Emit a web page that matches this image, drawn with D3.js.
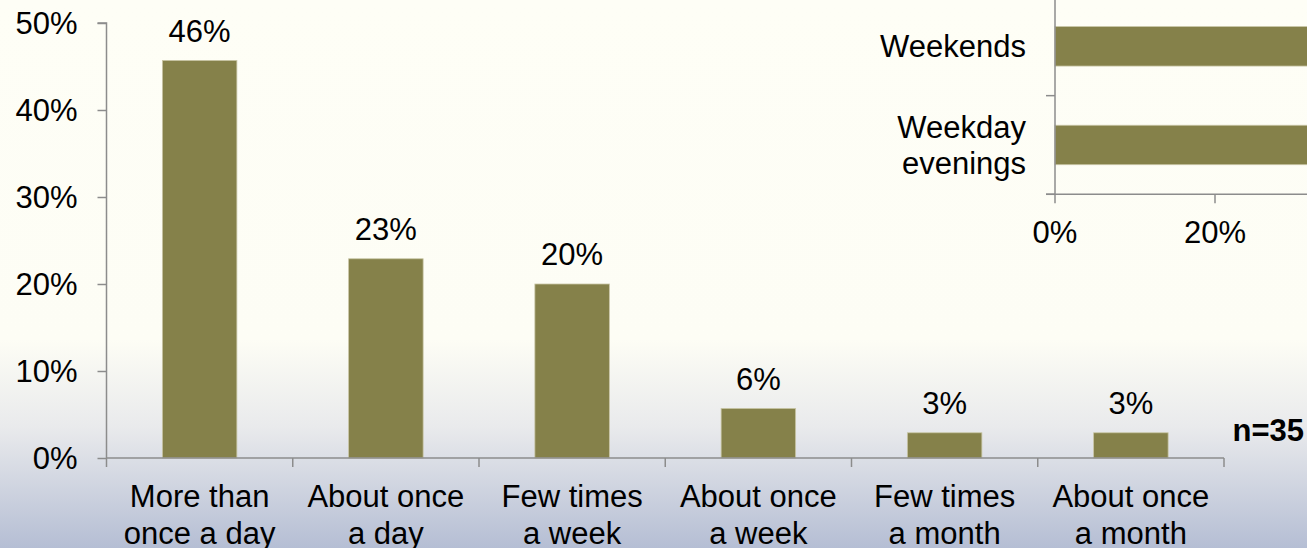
<!DOCTYPE html>
<html>
<head>
<meta charset="utf-8">
<script src="https://cdn.jsdelivr.net/npm/d3@7"></script>
<style>
  html, body { margin: 0; padding: 0; overflow: hidden; }
  svg { display: block; font-family: Arial, "Liberation Sans", sans-serif; }
</style>
</head>
<body>
<svg id="chart" width="1307" height="548"></svg>
<script>
// ---- Data ----
const categories = [["More than", "once a day"], ["About once", "a day"], ["Few times", "a week"], ["About once", "a week"], ["Few times", "a month"], ["About once", "a month"]];
const values = [45.7, 22.9, 20.0, 5.7, 2.9, 2.9];
const valueLabels = ["46%", "23%", "20%", "6%", "3%", "3%"];
const yTicks = [0, 10, 20, 30, 40, 50];

const insetCategories = [["Weekends"], ["Weekday", "evenings"]];
const insetValues = [66, 63];
const insetTicks = [0, 20, 40];

const sampleNote = "n=35";

// ---- Setup ----
const W = 1307, H = 548;
const svg = d3.select("#chart");
const barColor = "#85814A";
const axisColor = "#8C8C8C";
const fontSize = 31;

// background gradient
const defs = svg.append("defs");
const grad = defs.append("linearGradient").attr("id", "bg").attr("x1", 0).attr("y1", 0).attr("x2", 0).attr("y2", 1);
grad.append("stop").attr("offset", "0").attr("stop-color", "#FEFEF6");
grad.append("stop").attr("offset", "0.62").attr("stop-color", "#FDFDF5");
grad.append("stop").attr("offset", "0.78").attr("stop-color", "#E9EAEC");
grad.append("stop").attr("offset", "1").attr("stop-color", "#B5BED4");
svg.append("rect").attr("width", W).attr("height", H).attr("fill", "url(#bg)");

// ---- Main chart ----
const x0 = 106.5, x1 = 1224, yTop = 23, yBot = 458;
const x = d3.scaleBand().domain(d3.range(categories.length)).range([x0, x1]).padding(0);
const y = d3.scaleLinear().domain([0, 50]).range([yBot, yTop]);
const barW = x.bandwidth() * 0.4;

// bars
svg.append("g").selectAll("rect").data(values).join("rect")
  .attr("x", (d, i) => x(i) + (x.bandwidth() - barW) / 2)
  .attr("y", d => y(d))
  .attr("width", barW)
  .attr("height", d => y(0) - y(d))
  .attr("fill", barColor)
  .attr("stroke", "#C9C6A6")
  .attr("stroke-width", 0.8);

// y axis
const yAxis = svg.append("g").attr("transform", `translate(${x0},0)`)
  .call(d3.axisLeft(y).tickValues(yTicks).tickFormat(d => d + "%").tickSize(9).tickPadding(20));
yAxis.select(".domain").attr("stroke", axisColor).attr("stroke-width", 1.5).attr("d", `M-9,${yTop}H0V${yBot}`);
yAxis.selectAll(".tick line").attr("stroke", axisColor).attr("stroke-width", 1.5);
yAxis.selectAll(".tick text").attr("font-size", fontSize).attr("fill", "#000")
  .attr("font-family", "Arial, 'Liberation Sans', sans-serif").attr("dy", "0.35em");

// x axis line and ticks at band boundaries
const xg = svg.append("g");
xg.append("line").attr("x1", x0).attr("x2", x1).attr("y1", yBot).attr("y2", yBot)
  .attr("stroke", axisColor).attr("stroke-width", 1.5);
const boundaries = d3.range(categories.length + 1).map(i => i < categories.length ? x(i) : x1);
xg.selectAll("line.tk").data(boundaries).join("line").attr("class", "tk")
  .attr("x1", d => d).attr("x2", d => d).attr("y1", yBot).attr("y2", yBot + 9)
  .attr("stroke", axisColor).attr("stroke-width", 1.5);

// x labels
svg.append("g").selectAll("text").data(categories).join("text")
  .attr("x", (d, i) => x(i) + x.bandwidth() / 2)
  .attr("y", 507)
  .attr("text-anchor", "middle")
  .attr("font-size", fontSize)
  .attr("fill", "#000")
  .each(function(d) {
    const t = d3.select(this);
    d.forEach((line, j) => {
      t.append("tspan").attr("x", t.attr("x")).attr("dy", j === 0 ? 0 : 36.5).text(line);
    });
  });

// value labels
svg.append("g").selectAll("text").data(values).join("text")
  .attr("x", (d, i) => x(i) + x.bandwidth() / 2)
  .attr("y", d => y(d) - 18.6)
  .attr("text-anchor", "middle")
  .attr("font-size", fontSize)
  .attr("fill", "#000")
  .text((d, i) => valueLabels[i]);

// n note
svg.append("text").attr("x", 1304).attr("y", 441).attr("text-anchor", "end")
  .attr("font-size", fontSize).attr("font-weight", "bold").attr("fill", "#000").text(sampleNote);

// ---- Inset chart ----
const ix0 = 1055, iyTop = -3, iyBot = 194.3;
const ix = d3.scaleLinear().domain([0, 20]).range([ix0, 1215]);
const iy = d3.scaleBand().domain(d3.range(insetCategories.length)).range([iyTop, iyBot]).padding(0);
const ibarH = iy.bandwidth() * 0.4;

svg.append("g").selectAll("rect").data(insetValues).join("rect")
  .attr("x", ix(0))
  .attr("y", (d, i) => iy(i) + (iy.bandwidth() - ibarH) / 2)
  .attr("width", d => ix(d) - ix(0))
  .attr("height", ibarH)
  .attr("fill", barColor)
  .attr("stroke", "#C9C6A6")
  .attr("stroke-width", 0.8);

const ig = svg.append("g");
ig.append("line").attr("x1", ix0).attr("x2", ix0).attr("y1", iyTop).attr("y2", iyBot)
  .attr("stroke", axisColor).attr("stroke-width", 1.5);
ig.append("line").attr("x1", ix0 - 9).attr("x2", W + 10).attr("y1", iyBot).attr("y2", iyBot)
  .attr("stroke", axisColor).attr("stroke-width", 1.5);
const iBounds = d3.range(insetCategories.length).map(i => iy(i)).concat([iyBot]).filter(v => v > 0);
ig.selectAll("line.ytk").data(iBounds).join("line").attr("class", "ytk")
  .attr("x1", ix0 - 9).attr("x2", ix0).attr("y1", d => d).attr("y2", d => d)
  .attr("stroke", axisColor).attr("stroke-width", 1.5);
ig.selectAll("line.xtk").data(insetTicks).join("line").attr("class", "xtk")
  .attr("x1", d => ix(d)).attr("x2", d => ix(d)).attr("y1", iyBot).attr("y2", iyBot + 9)
  .attr("stroke", axisColor).attr("stroke-width", 1.5);
ig.selectAll("text.xl").data(insetTicks).join("text").attr("class", "xl")
  .attr("x", d => ix(d)).attr("y", 243).attr("text-anchor", "middle")
  .attr("font-size", fontSize).attr("fill", "#000").text(d => d + "%");

svg.append("g").selectAll("text").data(insetCategories).join("text")
  .attr("x", 1026)
  .attr("text-anchor", "end")
  .attr("font-size", fontSize)
  .attr("fill", "#000")
  .attr("y", (d, i) => iy(i) + iy.bandwidth() / 2 - (d.length - 1) * 18 + 10.8)
  .each(function(d) {
    const t = d3.select(this);
    d.forEach((line, j) => {
      t.append("tspan").attr("x", 1026).attr("dy", j === 0 ? 0 : 36).text(line);
    });
  });
</script>
</body>
</html>
